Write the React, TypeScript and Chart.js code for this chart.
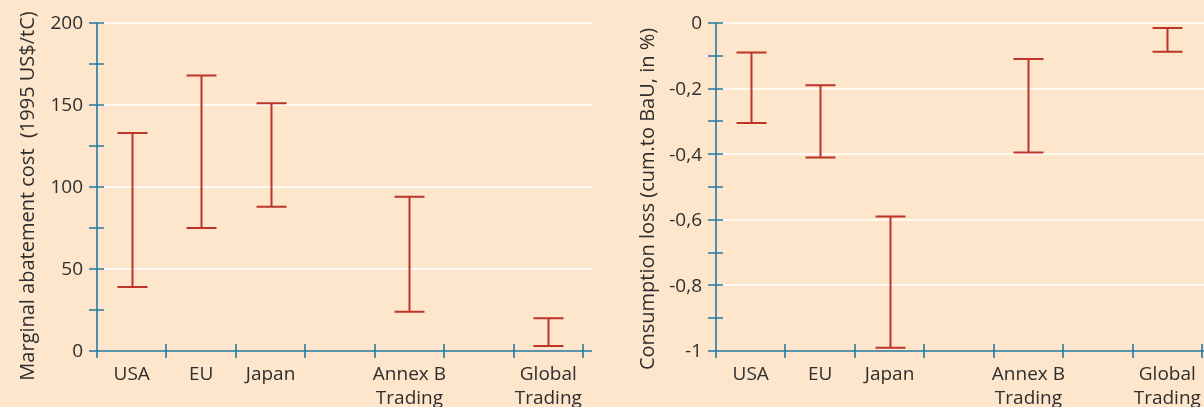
import React, { useEffect, useRef } from "react";
import { Chart, registerables } from "chart.js";
Chart.register(...registerables);

// ---- data ----
const categories: (string | string[])[] = ["USA", "EU", "Japan", "", ["Annex B", "Trading"], "", ["Global", "Trading"]];

const costLow = [39, 75, 88, null, 24, null, 3];
const costHigh = [133, 168, 151, null, 94, null, 20];
const costTicks = [0, 50, 100, 150, 200];
const costTickLabels = ["0", "50", "100", "150", "200"];
const costMinorTicks = [25, 75, 125, 175];
const costTitle = "Marginal abatement cost  (1995 US$/tC)";

const lossHigh = [-0.09, -0.19, -0.59, null, -0.11, null, -0.015];
const lossLow = [-0.305, -0.41, -0.99, null, -0.395, null, -0.088];
const lossTicks = [0, -0.2, -0.4, -0.6, -0.8, -1];
const lossTickLabels = ["0", "-0,2", "-0,4", "-0,6", "-0,8", "-1"];
const lossMinorTicks = [-0.1, -0.3, -0.5, -0.7, -0.9];
const lossTitle = "Consumption loss (cum.to BaU, in %)";

// ---- styles ----
const BG = "#FDE6CC";
const AXIS = "#2678A0";
const BAR = "#BC3528";
const TEXT = "#2E2E2E";
const GRID = "#FFFFFF";
const FONT = "'Open Sans', 'Noto Sans', sans-serif";

type PanelCfg = {
  low: (number | null)[];
  high: (number | null)[];
  ticks: number[];
  tickLabels: string[];
  minor: number[];
  title: string;
  min: number;
  max: number;
  titleX: number;
  titleY: number;
  extend: number;
  padding: { left: number; right: number; top: number; bottom: number };
};

function makePlugin(cfg: PanelCfg) {
  return {
    id: "customAxes",
    beforeDatasetsDraw(chart: any) {
      const { ctx, chartArea } = chart;
      const { left, right, bottom } = chartArea;
      const y = chart.scales.y;
      ctx.save();
      ctx.strokeStyle = GRID;
      ctx.lineWidth = 1.6;
      cfg.ticks.forEach((v) => {
        const py = Math.round(y.getPixelForValue(v));
        if (Math.abs(py - bottom) < 2) return;
        ctx.beginPath();
        ctx.moveTo(left, py);
        ctx.lineTo(right + cfg.extend, py);
        ctx.stroke();
      });
      ctx.restore();
    },
    afterDatasetsDraw(chart: any) {
      const { ctx, chartArea } = chart;
      const { left, right, top, bottom } = chartArea;
      const x = chart.scales.x;
      const y = chart.scales.y;
      ctx.save();

      // error bars
      ctx.strokeStyle = BAR;
      ctx.lineWidth = 2;
      cfg.low.forEach((lo, i) => {
        const hi = cfg.high[i];
        if (lo == null || hi == null) return;
        const px = Math.round(x.getPixelForValue(i)) + 0.5;
        const yl = y.getPixelForValue(lo);
        const yh = y.getPixelForValue(hi);
        ctx.beginPath();
        ctx.moveTo(px, yl);
        ctx.lineTo(px, yh);
        ctx.moveTo(px - 15, yl);
        ctx.lineTo(px + 15, yl);
        ctx.moveTo(px - 15, yh);
        ctx.lineTo(px + 15, yh);
        ctx.stroke();
      });

      // axes
      ctx.strokeStyle = AXIS;
      ctx.lineWidth = 1.6;
      ctx.beginPath();
      ctx.moveTo(left, top);
      ctx.lineTo(left, bottom + 7);
      ctx.moveTo(left - 8, bottom);
      ctx.lineTo(right + cfg.extend, bottom);
      // y ticks
      [...cfg.ticks, ...cfg.minor].forEach((v) => {
        const py = Math.round(y.getPixelForValue(v));
        ctx.moveTo(left - 8, py);
        ctx.lineTo(left + 7, py);
      });
      // x ticks at category borders
      const n = categories.length;
      const w = (right - left) / n;
      for (let k = 1; k <= n; k++) {
        const px = Math.round(left + k * w);
        ctx.moveTo(px, bottom - 7);
        ctx.lineTo(px, bottom + 7);
      }
      ctx.stroke();

      // y tick labels
      ctx.fillStyle = TEXT;
      ctx.font = `19px ${FONT}`;
      ctx.textAlign = "right";
      ctx.textBaseline = "middle";
      cfg.ticks.forEach((v, i) => {
        const py = y.getPixelForValue(v);
        ctx.fillText(cfg.tickLabels[i], left - 14, py + 1);
      });

      // x labels
      ctx.textAlign = "center";
      ctx.textBaseline = "alphabetic";
      categories.forEach((lab, i) => {
        const px = x.getPixelForValue(i);
        const lines = Array.isArray(lab) ? lab : [lab];
        lines.forEach((t, j) => {
          if (t) ctx.fillText(t, px, bottom + 29 + j * 24);
        });
      });

      // y title
      ctx.translate(cfg.titleX, cfg.titleY);
      ctx.rotate(-Math.PI / 2);
      ctx.textAlign = "center";
      ctx.textBaseline = "alphabetic";
      ctx.font = `20px ${FONT}`;
      ctx.fillText(cfg.title, 0, 0);
      ctx.restore();
    },
  };
}

function Panel({ cfg, width }: { cfg: PanelCfg; width: number }) {
  const ref = useRef<HTMLCanvasElement | null>(null);
  useEffect(() => {
    if (!ref.current) return;
    const data = cfg.low.map((lo, i) => (lo == null || cfg.high[i] == null ? null : [lo, cfg.high[i] as number]));
    const chart = new Chart(ref.current, {
      type: "bar",
      data: {
        labels: categories as any,
        datasets: [
          {
            data: data as any,
            backgroundColor: "rgba(0,0,0,0)",
            borderWidth: 0,
          },
        ],
      },
      options: {
        animation: false,
        responsive: false,
        devicePixelRatio: 1,
        layout: { padding: cfg.padding },
        plugins: { legend: { display: false }, tooltip: { enabled: false } },
        scales: {
          x: { type: "category", display: false, offset: true },
          y: { type: "linear", display: false, min: cfg.min, max: cfg.max },
        },
      },
      plugins: [makePlugin(cfg)],
    });
    return () => chart.destroy();
  }, []);
  return <canvas ref={ref} width={width} height={407} style={{ display: "block", width, height: 407 }} />;
}

const leftCfg: PanelCfg = {
  low: costLow,
  high: costHigh,
  ticks: costTicks,
  tickLabels: costTickLabels,
  minor: costMinorTicks,
  title: costTitle,
  min: 0,
  max: 200,
  titleX: 34,
  titleY: 196,
  extend: 9,
  padding: { left: 97, right: 17, top: 23, bottom: 56 },
};

const rightCfg: PanelCfg = {
  low: lossLow,
  high: lossHigh,
  ticks: lossTicks,
  tickLabels: lossTickLabels,
  minor: lossMinorTicks,
  title: lossTitle,
  min: -1,
  max: 0,
  titleX: 54,
  titleY: 199,
  extend: 9,
  padding: { left: 116, right: 2, top: 23, bottom: 56 },
};

export default function App() {
  return (
    <div
      style={{
        position: "fixed",
        left: 0,
        top: 0,
        width: 1204,
        height: 407,
        background: BG,
        display: "flex",
        overflow: "hidden",
      }}
    >
      <Panel cfg={leftCfg} width={600} />
      <Panel cfg={rightCfg} width={604} />
    </div>
  );
}
